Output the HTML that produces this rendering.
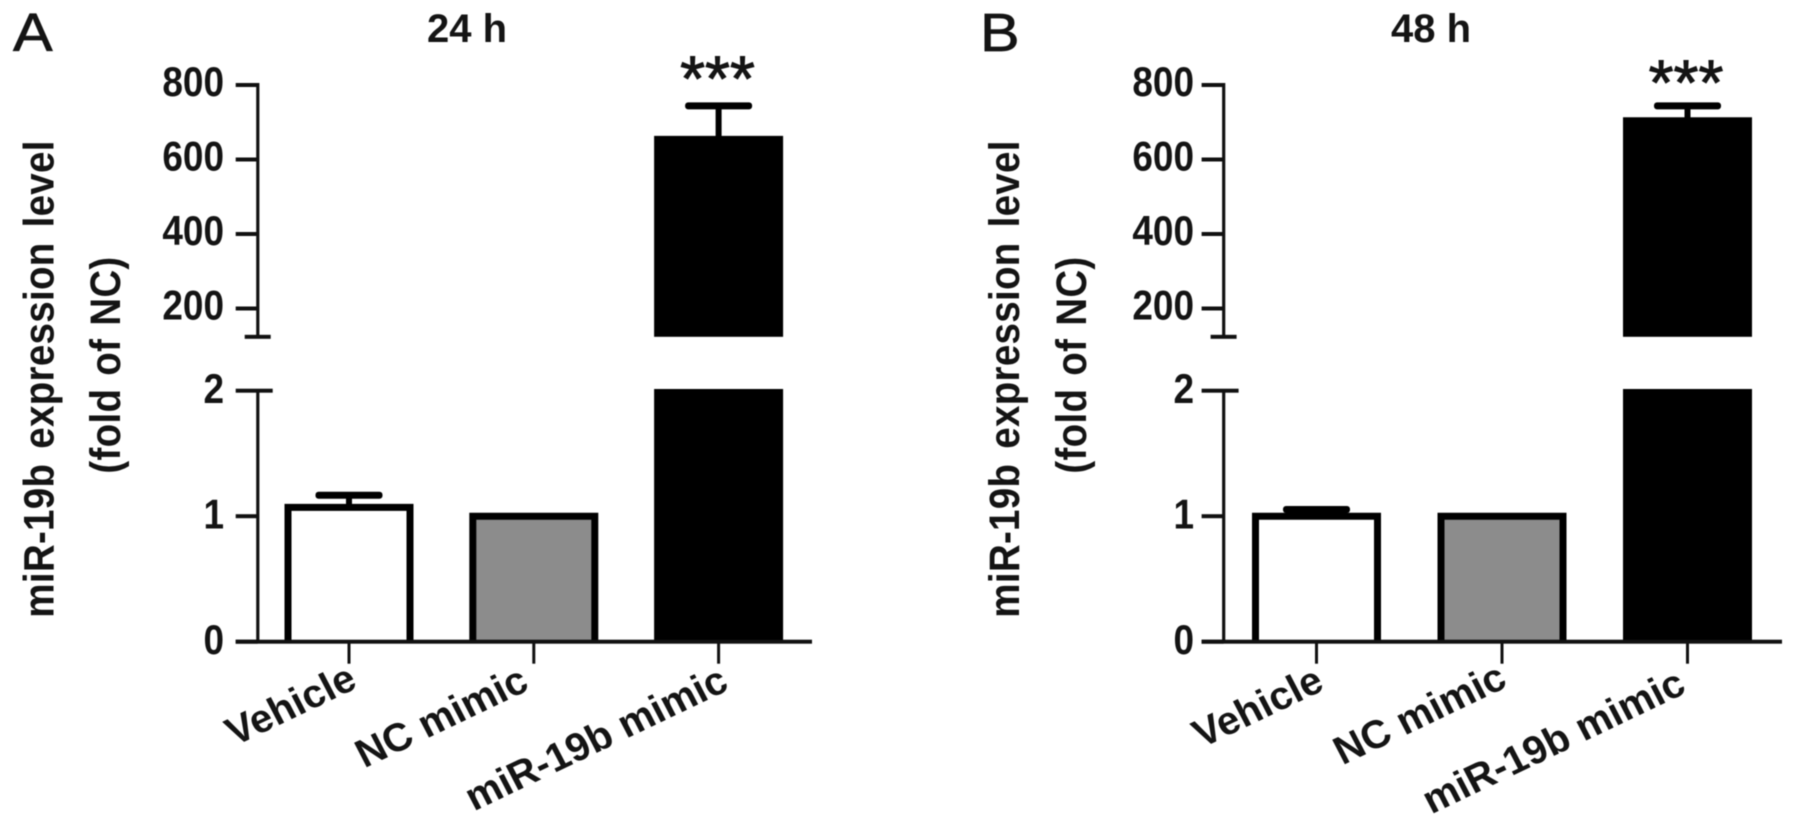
<!DOCTYPE html>
<html lang="en">
<head>
<meta charset="utf-8">
<title>miR-19b expression level at 24 h and 48 h</title>
<style>
html,body{margin:0;padding:0;background:#fff;}
svg{display:block;font-family:"Liberation Sans",Arial,sans-serif;filter:blur(0.6px);}
text{fill:#141414;}
</style>
</head>
<body>
<svg id="chart" xmlns="http://www.w3.org/2000/svg" width="1795" height="821" viewBox="0 0 1795 821"></svg>
<script>
const categories = ['Vehicle', 'NC mimic', 'miR-19b mimic'];
const barFills = ['#ffffff', '#8c8c8c', '#000000'];
const values24h = [1.07, 1.0, 654];
const errorTops24h = [1.167, 1.0, 744];
const values48h = [1.0, 1.0, 704];
const errorTops48h = [1.053, 1.0, 744];
const upperTicks = [200, 400, 600, 800];
const lowerTicks = [0, 1, 2];

const NS = 'http://www.w3.org/2000/svg';
const svg = document.getElementById('chart');

function make(tag, props, text) {
  const el = document.createElementNS(NS, tag);
  for (const k in props) el.setAttribute(k, props[k]);
  if (text !== undefined) el.textContent = text;
  svg.appendChild(el);
  return el;
}

function drawPanel(p) {
  const yLow = v => 641.7 - v * 125.5;
  const yHigh = v => 85 + (800 - v) * 0.3725;
  const breakValue = 124;
  const lowMax = lowerTicks[lowerTicks.length - 1];
  const xCat = i => p.x0 + i * p.step;
  const barHalf = 64.5, barStroke = 7;

  let el = make('text', {transform: 'translate(' + p.letterX + ',51) scale(1.1,1)', 'font-size': 54, stroke: '#141414', 'stroke-width': 0.7}, p.letter);
  
  

  el = make('text', {x: p.titleX, y: 42, 'font-size': 40, 'font-weight': 'bold', 'text-anchor': 'middle'}, p.title);
  
  

  el = make('text', {transform: 'translate(' + p.title1X + ',379) rotate(-90) scale(1,1.1)', 'font-size': 38.5, 'font-weight': 'bold', 'text-anchor': 'middle', 'letter-spacing': 0.3, 'word-spacing': 4}, 'miR-19b expression level');
  
  

  el = make('text', {transform: 'translate(' + p.title2X + ',365) rotate(-90) scale(1,1.1)', 'font-size': 38.5, 'font-weight': 'bold', 'text-anchor': 'middle', 'letter-spacing': 0.3, 'word-spacing': 2}, '(fold of NC)');
  
  

  // bars: open at the bottom so the outline ends on the x axis
  categories.forEach((c, i) => {
    const v = p.values[i];
    const cx = xCat(i);
    const left = cx - barHalf + barStroke / 2;
    const right = cx + barHalf - barStroke / 2;
    const top = v > lowMax ? yLow(lowMax) + 1.8 : yLow(v);
    const bar = make('path', {d: 'M' + left + ',' + yLow(0) + ' V' + top + ' H' + right + ' V' + yLow(0), fill: barFills[i], stroke: '#000', 'stroke-width': barStroke});
    
    
    if (v > lowMax) {
      const upperTop = yHigh(v);
      const upper = make('rect', {x: left, y: upperTop, width: right - left, height: yHigh(breakValue) - barStroke / 2 - upperTop, fill: barFills[i], stroke: '#000', 'stroke-width': barStroke});
      
      
    }
    const err = p.errors[i];
    if (err > v) {
      const sc = v > lowMax ? yHigh : yLow;
      const whisker = make('rect', {x: cx - 3, y: sc(err), width: 6, height: sc(v) - sc(err), fill: '#000'});
      
      
      const cap = make('rect', {x: cx - 33.5, y: sc(err) - 3.5, width: 67, height: 7, rx: 3, fill: '#000'});
      
      
    }
    if (i === categories.length - 1) {
      const star = make('text', {x: p.starX, y: p.starY, 'font-size': 64, 'text-anchor': 'middle', stroke: '#141414', 'stroke-width': 1}, '***');
      
      
    }
  });

  // axes
  el = make('rect', {x: p.axisX - 1.5, y: yHigh(800) - 2, width: 3.2, height: yHigh(breakValue) - yHigh(800) + 2, fill: '#111'});
  
  
  el = make('rect', {x: p.axisX - 13, y: yHigh(breakValue) - 2, width: 26, height: 4, fill: '#111'});
  
  
  el = make('rect', {x: p.axisX - 1.5, y: yLow(lowMax), width: 3.2, height: yLow(0) - yLow(lowMax), fill: '#111'});
  
  
  el = make('rect', {x: p.axisX - 22, y: yLow(0) - 2, width: p.xEnd - p.axisX + 22, height: 4, fill: '#111'});
  
  

  upperTicks.forEach(t => {
    const tick = make('rect', {x: p.axisX - 22, y: yHigh(t) - 2, width: 22, height: 4, fill: '#111'});
    
    
    const lab = make('text', {transform: 'translate(' + p.labelX + ',' + (yHigh(t) + 11) + ') scale(0.88,1)', 'font-size': 42, 'font-weight': 'bold', 'text-anchor': 'end'}, String(t));
    
    
  });
  lowerTicks.forEach(t => {
    const right = t === lowMax ? 15 : 0;
    const tick = make('rect', {x: p.axisX - 22, y: yLow(t) - 2, width: 22 + right, height: 4, fill: '#111'});
    
    
    const lab = make('text', {transform: 'translate(' + p.labelX + ',' + (yLow(t) + 12.5) + ') scale(0.88,1)', 'font-size': 42, 'font-weight': 'bold', 'text-anchor': 'end'}, String(t));
    
    
  });

  categories.forEach((c, i) => {
    const tick = make('rect', {x: xCat(i) - 1.5, y: yLow(0), width: 3, height: 22, fill: '#111'});
    
    
    const lab = make('text', {transform: 'translate(' + (xCat(i) + p.labelShift[i]) + ',' + (687 + p.labelDrop[i]) + ') rotate(-25.5) skewX(2)', 'font-size': 40, 'font-weight': 'bold', 'text-anchor': 'end'}, c);
    
    
  });
}

drawPanel({
  key: '24h', letter: 'A', letterX: 13, title: '24 h', titleX: 467,
  title1X: 53.5, title2X: 120, axisX: 257.7, labelX: 224, xEnd: 812,
  x0: 349, step: 184.8, starX: 717.5, starY: 100.5, labelShift: [10, -3, 12], labelDrop: [0, 2, 2],
  values: values24h, errors: errorTops24h
});
drawPanel({
  key: '48h', letter: 'B', letterX: 980, title: '48 h', titleX: 1431,
  title1X: 1019, title2X: 1086, axisX: 1223.6, labelX: 1194, xEnd: 1782,
  x0: 1316.5, step: 185.5, starX: 1686, starY: 104.5, labelShift: [9.5, 7, 0.5], labelDrop: [2, -1, 5],
  values: values48h, errors: errorTops48h
});
</script>
</body>
</html>
